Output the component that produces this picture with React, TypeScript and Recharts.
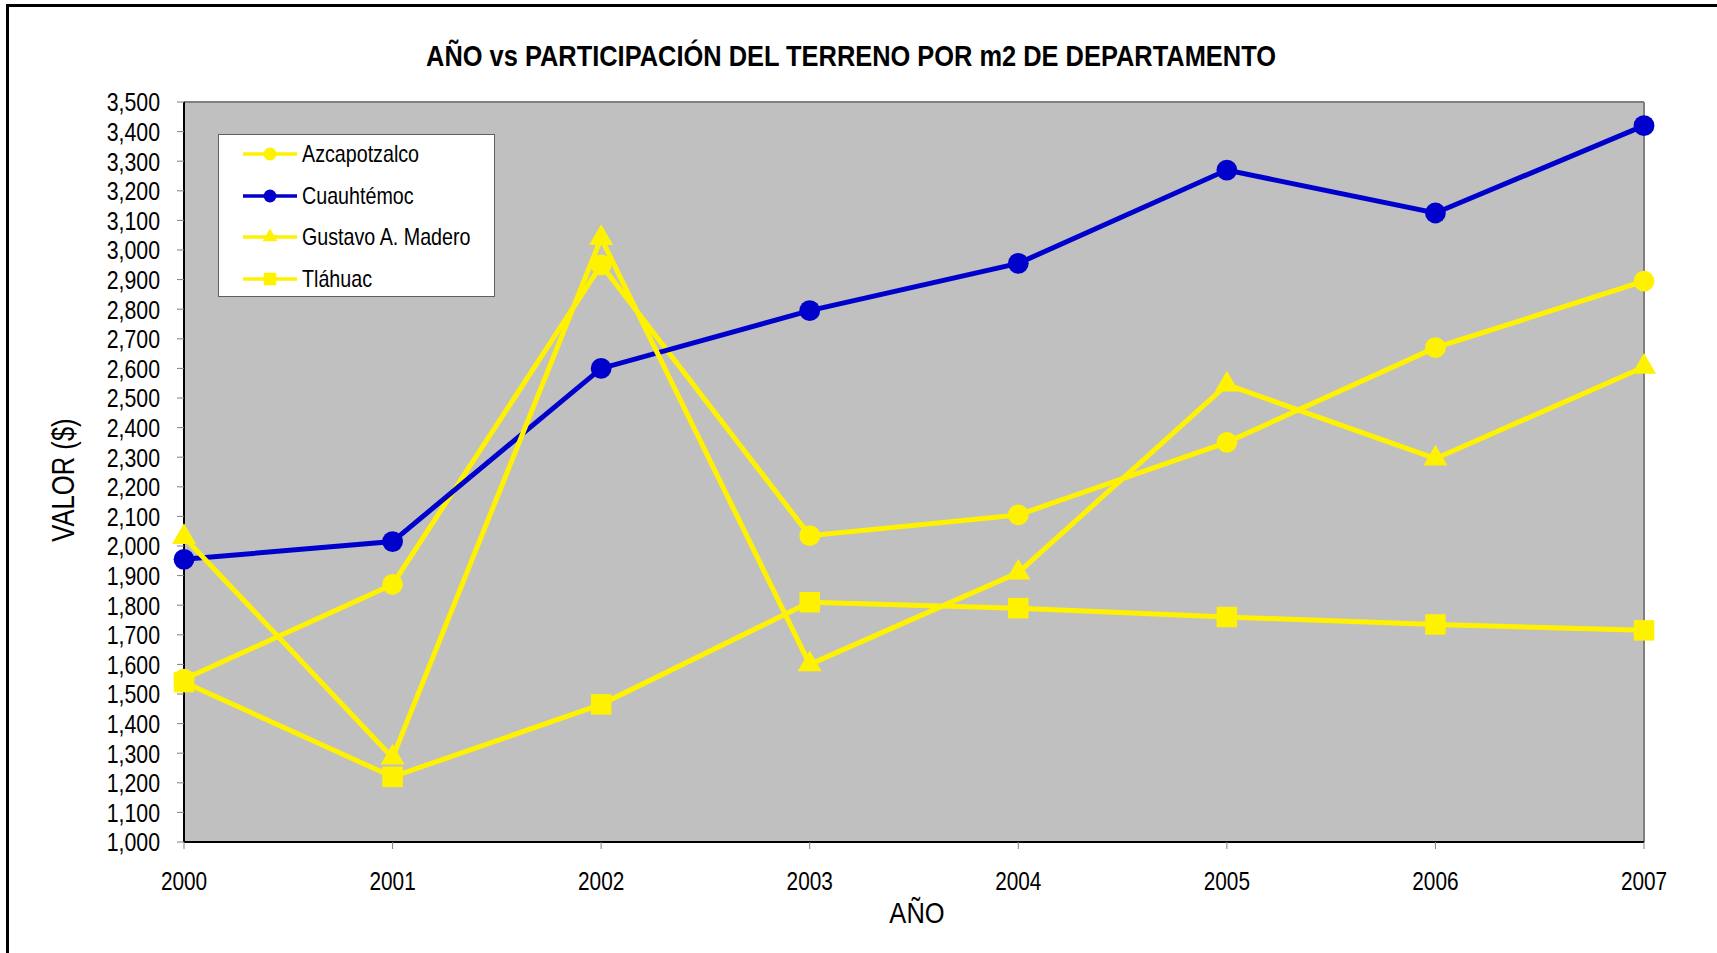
import { CartesianGrid, Line, LineChart, ReferenceLine, Symbols, XAxis, YAxis } from "recharts";

const years = [2000, 2001, 2002, 2003, 2004, 2005, 2006, 2007];
const azcapotzalco = [1550, 1870, 2950, 2035, 2105, 2350, 2670, 2895];
const cuauhtemoc = [1955, 2015, 2600, 2795, 2955, 3270, 3125, 3420];
const gustavoMadero = [2030, 1285, 3040, 1600, 1910, 2545, 2295, 2605];
const tlahuac = [1540, 1220, 1465, 1810, 1790, 1760, 1735, 1715];
const yTicks = [1000, 1100, 1200, 1300, 1400, 1500, 1600, 1700, 1800, 1900, 2000, 2100, 2200, 2300, 2400, 2500, 2600, 2700, 2800, 2900, 3000, 3100, 3200, 3300, 3400, 3500];

const chartData = years.map((year, i) => ({
    year,
    azcapotzalco: azcapotzalco[i],
    cuauhtemoc: cuauhtemoc[i],
    gustavoMadero: gustavoMadero[i],
    tlahuac: tlahuac[i],
}));

const YELLOW = "#FFF200";
const BLUE = "#0000CC";
const FONT = "'Liberation Sans', Arial, sans-serif";

type Shape = "circle" | "triangle" | "square";

const series: { key: string, name: string, color: string, shape: Shape }[] = [
    { key: "azcapotzalco", name: "Azcapotzalco", color: YELLOW, shape: "circle" },
    { key: "cuauhtemoc", name: "Cuauhtémoc", color: BLUE, shape: "circle" },
    { key: "gustavoMadero", name: "Gustavo A. Madero", color: YELLOW, shape: "triangle" },
    { key: "tlahuac", name: "Tláhuac", color: YELLOW, shape: "square" },
];

const sizes: Record<Shape, number> = { circle: 340, triangle: 250, square: 420 };

function marker(shape: Shape, color: string) {
    return (props: any) => {
        const { cx, cy, index } = props;
        if (cx == null || cy == null) return <g key={index} />;
        return <Symbols key={index} cx={cx} cy={cy} type={shape} size={sizes[shape]} fill={color} stroke="none" />;
    };
}

// the original uses a narrow font, so labels are squeezed horizontally
const YTick = (props: any) => {
    const { x, y, payload } = props;
    return (
        <text transform={`translate(${x},${y}) scale(0.82,1)`} textAnchor="end" dy="0.36em"
            fontSize={26} fontFamily={FONT} fill="#000">
            {Number(payload.value).toLocaleString("en-US")}
        </text>
    );
};

const XTick = (props: any) => {
    const { x, y, payload } = props;
    return (
        <text transform={`translate(${x},${y}) scale(0.8,1)`} textAnchor="middle" dy="0.71em"
            fontSize={26} fontFamily={FONT} fill="#000">
            {payload.value}
        </text>
    );
};

function LegendBox() {
    return (
        <div style={{
            position: "absolute", left: 218, top: 134, width: 277, height: 163,
            background: "#fff", border: "1px solid #606060", boxSizing: "border-box", fontFamily: FONT,
        }}>
            {series.map((s, i) => (
                <div key={s.key} style={{
                    position: "absolute", left: 24, top: 19 + i * 41.5 - 12, height: 24,
                    display: "flex", alignItems: "center", whiteSpace: "nowrap",
                }}>
                    <svg width={54} height={24}>
                        <line x1={0} y1={12} x2={54} y2={12} stroke={s.color} strokeWidth={3.5} />
                        <Symbols cx={27} cy={12} type={s.shape} size={sizes[s.shape] * 0.38} fill={s.color} stroke="none" />
                    </svg>
                    <span style={{
                        display: "inline-block", fontSize: 24, marginLeft: 5, color: "#000",
                        transform: "scaleX(0.82)", transformOrigin: "left center",
                    }}>{s.name}</span>
                </div>
            ))}
        </div>
    );
}

const centered = (x: number, y: number, extra: string) => ({
    position: "absolute" as const, left: x, top: y, whiteSpace: "nowrap" as const, lineHeight: 1,
    transform: `translate(-50%,-50%) ${extra}`, fontFamily: FONT, color: "#000",
});

export default function App() {
    return (
        <div style={{ position: "absolute", left: 0, top: 0, width: 1717, height: 953, background: "#fff", overflow: "hidden" }}>
            <div style={{
                position: "absolute", left: 6, top: 4, width: 1760, height: 1000,
                border: "3px solid #000", boxSizing: "border-box",
            }} />
            <div style={{ ...centered(851, 56, "scaleX(0.847)"), fontSize: 30, fontWeight: "bold" }}>
                AÑO vs PARTICIPACIÓN DEL TERRENO POR m2 DE DEPARTAMENTO
            </div>
            <div style={{ position: "absolute", left: 0, top: 0 }}>
                <LineChart width={1717} height={953} data={chartData}
                    margin={{ top: 102, right: 73, bottom: 61, left: 84 }}>
                    <CartesianGrid fill="#C0C0C0" horizontal={false} vertical={false} />
                    <XAxis dataKey="year" type="number" domain={[2000, 2007]} ticks={years}
                        height={50} stroke="#000" strokeWidth={2}
                        tickLine={{ stroke: "#808080", strokeWidth: 1 }} tickSize={7} tickMargin={23}
                        tick={<XTick />} />
                    <YAxis type="number" domain={[1000, 3500]} ticks={yTicks} interval={0}
                        width={100} stroke="#000" strokeWidth={2}
                        tickLine={{ stroke: "#808080", strokeWidth: 1 }} tickSize={7} tickMargin={17}
                        tick={<YTick />} />
                    <ReferenceLine y={3500} stroke="#808080" strokeWidth={2} />
                    <ReferenceLine x={2007} stroke="#808080" strokeWidth={2} />
                    {series.map(s => (
                        <Line key={s.key} dataKey={s.key} name={s.name} type="linear"
                            stroke={s.color} strokeWidth={5}
                            dot={marker(s.shape, s.color)} activeDot={false}
                            isAnimationActive={false} />
                    ))}
                </LineChart>
            </div>
            <LegendBox />
            <div style={{ ...centered(63, 480, "rotate(-90deg) scaleX(0.8)"), fontSize: 32 }}>VALOR ($)</div>
            <div style={{ ...centered(917, 913, "scaleX(0.85)"), fontSize: 30 }}>AÑO</div>
        </div>
    );
}
